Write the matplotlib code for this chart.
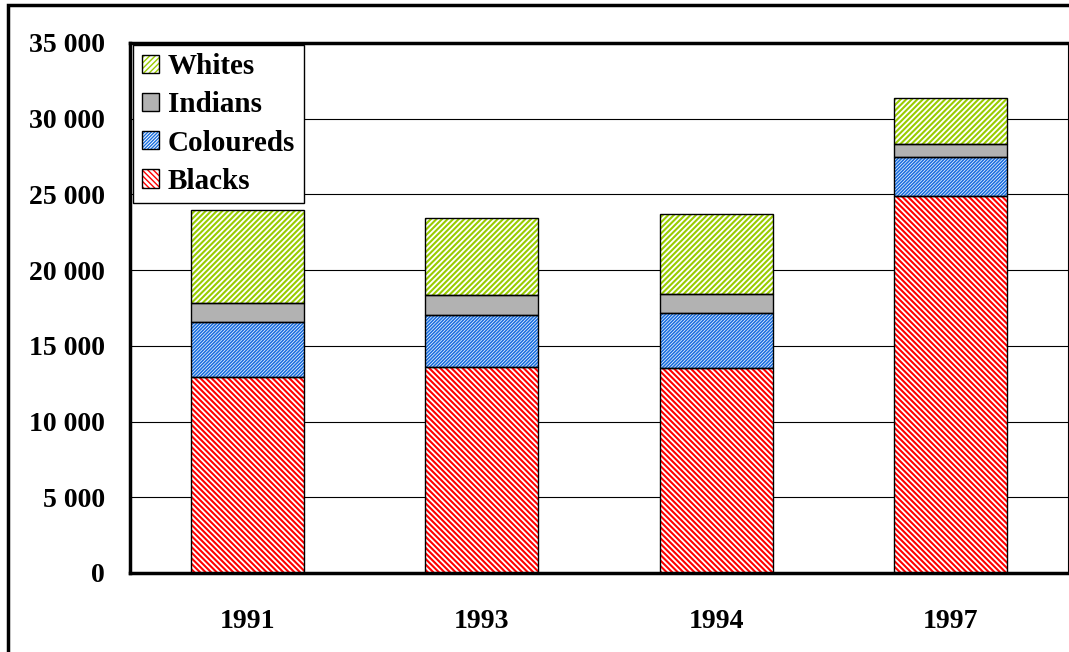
import matplotlib
matplotlib.use("Agg")
from matplotlib import pyplot as plt
from matplotlib.patches import Patch, Rectangle
from matplotlib.ticker import FuncFormatter

years = ['1991', '1993', '1994', '1997']
blacks = [12950, 13600, 13540, 24900]
coloureds = [3630, 3440, 3630, 2580]
indians = [1250, 1320, 1260, 850]
whites = [6140, 5090, 5280, 3040]

plt.rcParams['font.family'] = 'Liberation Serif'
plt.rcParams['font.weight'] = 'bold'

fig = plt.figure(figsize=(10.69, 6.52), dpi=100)
ax = fig.add_axes([130/1069, 79/652, 938/1069, 530/652])

# outer frame of the chart area
fig.patches.append(Rectangle((8/1069, -0.1), 1.2, 1 - 5/652 + 0.1,
                             transform=fig.transFigure, fill=False,
                             edgecolor='black', linewidth=2.5))

# name, values, hatch colour, hatch, face, hatch line width
series = [
    ('Blacks', blacks, 'red', '\\' * 6, 'white', 1.5),
    ('Coloureds', coloureds, '#1a6fe0', '/' * 10, 'white', 1.2),
    ('Indians', indians, '#b2b2b2', None, '#b2b2b2', 1.0),
    ('Whites', whites, '#99cc00', '/' * 6, 'white', 1.5),
]

x = range(len(years))
bottom = [0] * len(years)
handles = []
for name, vals, col, hatch, face, hlw in series:
    with plt.rc_context({'hatch.linewidth': hlw}):
        ax.bar(x, vals, 0.48, bottom=bottom, color=face, edgecolor=col,
               hatch=hatch, linewidth=0, zorder=2)
        h1 = Patch(facecolor=face, edgecolor=col, hatch=hatch, linewidth=0)
    ax.bar(x, vals, 0.48, bottom=bottom, fill=False, edgecolor='black',
           linewidth=1, zorder=3)
    h2 = Patch(fill=False, edgecolor='black', linewidth=1)
    handles.append(((h1, h2), name))
    bottom = [b + v for b, v in zip(bottom, vals)]

ax.set_xlim(-0.5, 3.5)
ax.set_ylim(0, 35000)
ax.set_yticks(range(0, 35001, 5000))
ax.yaxis.set_major_formatter(FuncFormatter(lambda v, p: f'{int(v):,}'.replace(',', ' ')))
ax.set_xticks(list(x))
ax.set_xticklabels(years)
ax.tick_params(axis='y', length=0, pad=18, labelsize=20)
ax.tick_params(axis='x', length=0, pad=26, labelsize=20)
ax.grid(axis='y', color='black', linewidth=0.8, zorder=0)
ax.set_axisbelow(True)

for s in ['top', 'left', 'bottom']:
    ax.spines[s].set_linewidth(2.5)
ax.spines['right'].set_linewidth(0.8)

handles = handles[::-1]
leg = ax.legend([h for h, n in handles], [n for h, n in handles],
                loc='upper left', bbox_to_anchor=(0.003, 0.997),
                fontsize=21, frameon=True, fancybox=False, framealpha=1,
                edgecolor='black', handlelength=0.6, handleheight=0.6,
                handletextpad=0.3, labelspacing=0.38, borderpad=0.3,
                borderaxespad=0)
leg.get_frame().set_linewidth(1)

fig.savefig('out.png', dpi=100)
